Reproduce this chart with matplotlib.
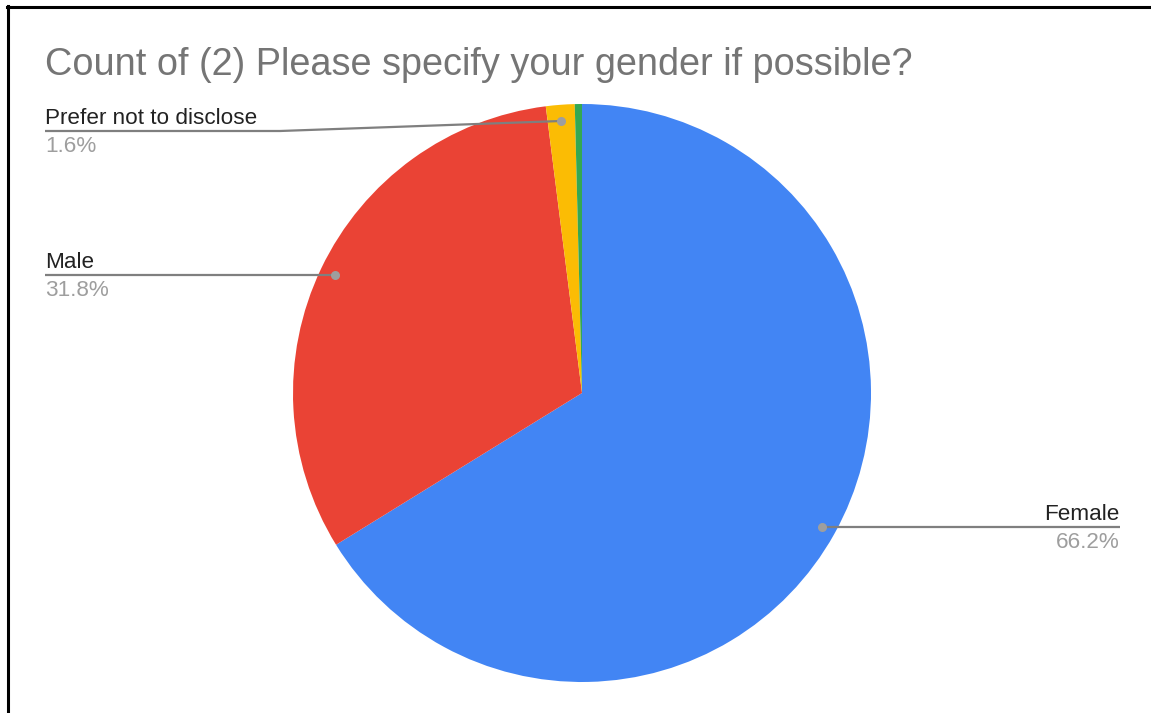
import matplotlib
matplotlib.use("Agg")
import matplotlib.pyplot as plt
from matplotlib.lines import Line2D

# Survey responses (share of respondents, %)
categories = ["Female", "Male", "Prefer not to disclose", "Other"]
shares = [66.2, 31.8, 1.6, 0.4]
colors = ["#4285F4", "#EA4335", "#FBBC04", "#34A853"]
title = "Count of (2) Please specify your gender if possible?"

W, H = 1151, 713
fig = plt.figure(figsize=(W / 100, H / 100), dpi=100)
ax = fig.add_axes([0, 0, 1, 1])

FONT = "Liberation Sans"


def py(y):
    """Convert a top-down pixel row into axis y."""
    return H - y


cx, cy, r = 582, 393, 289
ax.pie(shares, colors=colors, startangle=90, counterclock=False,
       center=(cx, py(cy)), radius=r, frame=True,
       wedgeprops=dict(linewidth=0))
ax.set_xlim(0, W)
ax.set_ylim(0, H)
ax.set_aspect("equal")
ax.axis("off")

# Title
ax.text(45, py(75), title, fontsize=27.3, color="#757575", family=FONT,
        ha="left", va="baseline")

line_col = "#7f7f7f"
dot_col = "#9e9e9e"
name_col = "#222222"
pct_col = "#9e9e9e"


def callout(path, label, value, text_x, line_y, ha):
    xs = [p[0] for p in path]
    ys = [py(p[1]) for p in path]
    ax.plot(xs, ys, color=line_col, lw=1.6, solid_capstyle="butt", zorder=3)
    ax.plot([xs[0]], [ys[0]], "o", color=dot_col, ms=6.5, mew=0, zorder=4)
    ax.text(text_x, py(line_y - 7), label, fontsize=16.2, color=name_col,
            family=FONT, ha=ha, va="baseline")
    ax.text(text_x, py(line_y + 21), f"{value:.1f}%", fontsize=16.2,
            color=pct_col, family=FONT, ha=ha, va="baseline")


callout([(561, 121), (280, 131), (45, 131)], categories[2], shares[2],
        45, 131, "left")
callout([(335, 275), (45, 275)], categories[1], shares[1], 45, 275, "left")
callout([(822, 527), (1120, 527)], categories[0], shares[0], 1120, 527, "right")

# Frame edges along the top and left
fig.add_artist(Line2D([8 / W, 8 / W], [0, 1 - 6 / H], transform=fig.transFigure,
                      color="black", lw=2.2))
fig.add_artist(Line2D([7 / W, 1], [1 - 7 / H, 1 - 7 / H], transform=fig.transFigure,
                      color="black", lw=2.2))

fig.savefig("out.png", dpi=100, facecolor="white")
